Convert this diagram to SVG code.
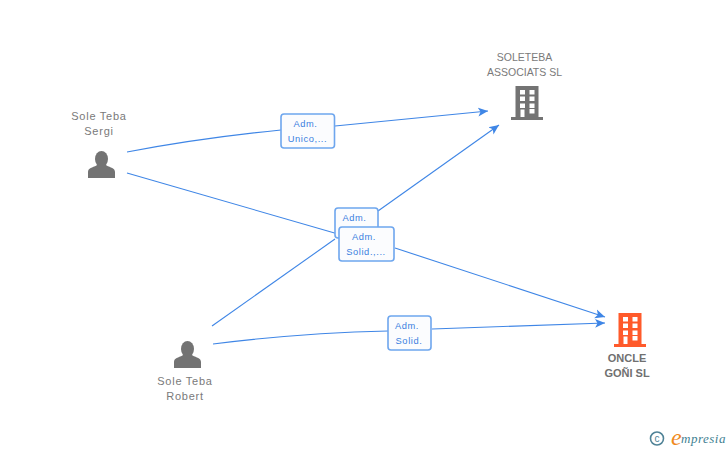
<svg xmlns="http://www.w3.org/2000/svg" width="728" height="450" viewBox="0 0 728 450">
<style>
text{font-family:"Liberation Sans",Arial,sans-serif}
.n{font-size:10.5px;fill:#7a7a7a;text-anchor:middle}
.p{font-size:11px;fill:#7a7a7a;text-anchor:middle;letter-spacing:.75px}
.nb{font-size:11px;fill:#707070;text-anchor:middle;font-weight:bold}
.l{font-size:9.300px;fill:#3a7fe0;text-anchor:middle;letter-spacing:.6px}
.c{fill:none;stroke:#3f86e6;stroke-width:1.100}
.b{fill:#fbfcfe;stroke:#6ea6ee;stroke-width:1.600}
.g{fill:#737373}
.o{fill:#ff5a2b}
.w{fill:#fff}
</style>
<defs>
<marker id="a" markerUnits="userSpaceOnUse" markerWidth="12" markerHeight="12" refX="10" refY="5" orient="auto"><path d="M0 .5L10 5L0 9.500L2.500 5Z" fill="#3f86e6"/></marker>
<g id="person"><ellipse cx="0" cy="-5" rx="6.500" ry="8"/><path d="M-13.500 14V8C-13.500 4-9 3.500-5 1.500L-3-2H3L5 1.500C9 3.500 13.500 4 13.500 8V14Z"/></g>
<g id="bld"><path d="M-11.500-19.500H11.500V11.500H16V14.500H-16V11.500H-11.500Z"/></g>
<path id="win" d="M-7-15.500h5v4.500h-5zM2.500-15.500h5v4.500h-5zM-7-9h5v4.500h-5zM2.500-9h5v4.500h-5zM-7-2h5v4.500h-5zM2.500-2h5v4.500h-5zM-6.500 4h4v7.500h-4zM2.500 3.500h5v4.500h-5z"/>
</defs>
<rect width="728" height="450" fill="#fff"/>
<g id="connectors">
<path class="c" d="M127 152Q200 138 281 130"/>
<path class="c" d="M335 126L488 111" marker-end="url(#a)"/>
<path class="c" d="M127 173L338 234"/>
<path class="c" d="M395 248L605 317" marker-end="url(#a)"/>
<path class="c" d="M212 326L335 239"/>
<path class="c" d="M378 211L499 125" marker-end="url(#a)"/>
<path class="c" d="M213 344Q300 333 388 331"/>
<path class="c" d="M432 329L605 323" marker-end="url(#a)"/>
</g>
<g id="edge-label-1"><rect class="b" x="281" y="114" width="53.500" height="34" rx="3"/><text class="l" x="305.500" y="127">Adm.</text><text class="l" x="307.500" y="142">Unico,...</text></g>
<g id="edge-label-2"><rect class="b" x="335" y="208" width="43" height="30" rx="3"/><text class="l" x="354.500" y="221">Adm.</text></g>
<g id="edge-label-3"><rect class="b" x="339" y="227" width="55" height="34" rx="3"/><text class="l" x="364" y="240">Adm.</text><text class="l" x="366" y="255">Solid.,...</text></g>
<g id="edge-label-4"><rect class="b" x="388" y="316" width="43" height="34" rx="3"/><text class="l" x="407" y="329">Adm.</text><text class="l" x="409" y="344">Solid.</text></g>
<g id="node-sergi"><text class="p" x="99" y="120">Sole Teba</text><text class="p" x="99" y="135">Sergi</text><use href="#person" class="g" x="101.500" y="164"/></g>
<g id="node-robert"><text class="p" x="185" y="385">Sole Teba</text><text class="p" x="185" y="400">Robert</text><use href="#person" class="g" x="187.500" y="354"/></g>
<g id="node-soleteba"><text class="n" x="524.500" y="61">SOLETEBA</text><text class="n" x="524.500" y="76">ASSOCIATS SL</text><use href="#bld" class="g" x="527" y="105.500"/><use href="#win" class="w" x="527" y="105.500"/></g>
<g id="node-oncle"><use href="#bld" class="o" x="630" y="332.500"/><use href="#win" class="w" x="630" y="332.500"/>
<text class="nb" x="627" y="362">ONCLE</text><text class="nb" x="627" y="377">GOÑI SL</text></g>
<g id="logo"><circle cx="657" cy="438.500" r="6.500" fill="none" stroke="#4f8296" stroke-width="1.600"/><text x="657" y="442" font-size="10" fill="#4f8296" text-anchor="middle">c</text>
<text x="671" y="445" font-size="24" fill="#f08a1d" font-style="italic" style="font-family:'Liberation Serif',serif">e</text>
<text x="681" y="443" font-size="13" fill="#3f7f92" font-style="italic" style="font-family:'Liberation Serif',serif" letter-spacing=".5">mpresia</text></g>
</svg>
